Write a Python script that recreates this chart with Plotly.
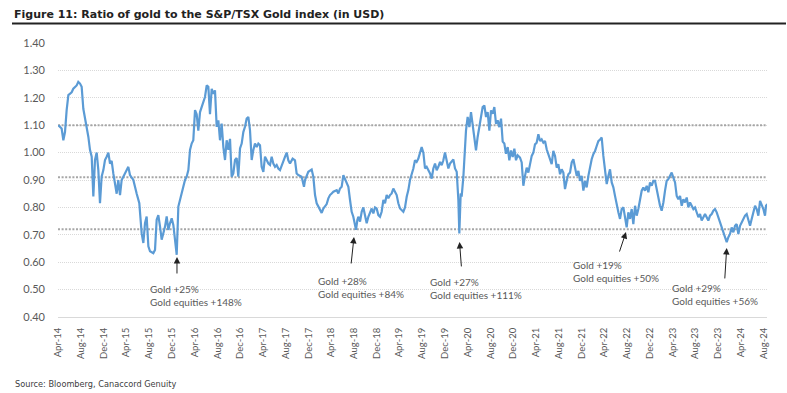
import pandas as pd
import plotly.graph_objects as go

# ---- data (months since 1 Apr 2014, ratio) ----
months = [
    0.06, 0.64, 0.94, 1.23, 1.52, 1.82, 2.40, 2.69, 3.28, 3.57, 3.87, 4.16, 4.45, 5.04, 5.33, 5.62, 5.92, 6.21,
    6.50, 6.80, 7.09, 7.38, 7.67, 7.97, 8.26, 8.55, 8.85, 9.14, 9.43, 9.72, 10.31, 10.60, 10.90, 11.19, 11.48,
    12.07, 12.36, 12.65, 13.24, 13.83, 14.29, 14.70, 15.00, 15.29, 15.58, 15.88, 16.17, 16.75, 17.05, 17.34,
    17.63, 17.93, 18.22, 18.51, 18.81, 19.10, 19.39, 19.68, 19.98, 20.27, 20.56, 20.86, 21.15, 21.44, 21.73,
    22.03, 22.32, 22.61, 22.91, 23.20, 23.49, 23.78, 24.08, 24.37, 24.66, 24.96, 25.25, 25.54, 25.83, 26.13,
    26.42, 26.71, 27.01, 27.30, 27.59, 27.89, 28.18, 28.47, 28.76, 29.06, 29.35, 29.64, 29.94, 30.23, 30.52,
    30.81, 31.11, 31.40, 31.69, 31.99, 32.28, 32.57, 32.86, 33.16, 33.45, 33.74, 34.04, 34.33, 34.62, 34.92,
    35.21, 35.50, 35.79, 36.09, 36.38, 36.67, 36.97, 37.26, 37.55, 37.84, 38.14, 38.43, 38.72,
    39.02, 39.31, 39.89, 40.19, 40.48, 40.77, 41.24, 41.65, 41.94, 42.24, 42.82, 43.23, 43.41, 43.99, 44.58,
    44.87, 45.17, 45.46, 46.05, 46.34, 46.63, 47.22, 47.51, 47.80, 48.10, 48.39, 48.98, 49.27, 49.56, 49.85,
    50.15, 50.44, 51.03, 51.32, 51.61, 51.90, 52.20, 52.37, 52.61, 52.78, 53.08, 53.37, 53.66, 53.96, 54.25,
    54.54, 54.83, 55.13, 55.42, 55.71, 56.00, 56.30, 56.59, 56.88, 57.18, 57.47, 57.76, 58.06, 58.35, 58.64,
    58.93, 59.23, 59.52, 59.81, 60.11, 60.69, 60.98, 61.28, 61.57, 61.86, 62.16, 62.45, 62.74, 63.03, 63.33,
    63.62, 63.91, 64.21, 64.50, 64.79, 65.08, 65.38, 65.67, 65.96, 66.26, 66.55, 66.84, 67.14, 67.43, 67.72,
    68.01, 68.31, 68.60, 68.89, 69.19, 69.48, 69.77, 70.07, 70.36, 70.53, 70.77, 70.94, 71.24, 71.41, 71.70,
    71.99, 72.29, 72.58, 72.88, 73.17, 73.46, 73.75, 74.05, 74.34, 74.63, 74.93, 75.22, 75.51, 75.81, 76.10,
    76.39, 76.68, 76.98, 77.27, 77.56, 77.86, 78.15, 78.44, 78.73, 79.03, 79.32, 79.61, 79.91, 80.20, 80.49,
    80.78,
    81.19, 81.49, 81.78, 82.07, 82.37, 82.66, 82.95, 83.25, 83.54, 83.83, 84.12, 84.42, 84.71, 85.00, 85.30,
    85.59, 85.88, 86.18, 86.47, 86.76, 87.05, 87.35, 87.64, 87.93, 88.23, 88.52, 88.81, 89.10, 89.40, 89.69,
    89.98, 90.28, 90.57, 90.86, 91.16, 91.45, 91.74, 92.03, 92.33, 92.62, 92.91, 93.21, 93.50, 93.79, 94.08,
    94.38, 94.67, 94.96, 95.26, 95.55, 95.84, 96.13, 96.43, 96.72, 97.01, 97.31, 97.60, 97.89, 98.18, 98.48,
    98.77, 99.06, 99.36, 99.65, 99.94, 100.23, 100.53, 100.82, 101.11, 101.41, 101.70, 101.99, 102.28, 102.58,
    102.87, 103.16, 103.46, 103.75, 104.04, 104.34, 104.63, 104.92, 105.21, 105.51, 105.80, 106.09, 106.39,
    106.68, 106.97, 107.26, 107.56, 107.85, 108.14, 108.44, 108.73, 109.02, 109.32, 109.61, 109.90, 110.19,
    110.49, 110.78, 111.07, 111.37, 111.66, 111.95, 112.24, 112.54, 112.83, 113.12, 113.42, 113.71, 114.00,
    114.29, 114.59, 114.88, 115.17, 115.47, 115.76, 116.05, 116.34, 116.64, 116.93, 117.22, 117.52, 117.81,
    118.10, 118.39, 118.69, 118.98, 119.27, 119.57, 119.86, 120.15, 120.45, 120.74, 121.03, 121.32, 121.62,
    121.91, 122.20, 122.50, 122.79, 123.08, 123.38, 123.67, 123.96, 124.25, 124.43, 124.66,
]
ratio = [
    1.100, 1.088, 1.045, 1.075, 1.155, 1.210, 1.220, 1.233, 1.245, 1.258, 1.252, 1.240, 1.160, 1.094, 1.058, 1.010, 0.985, 0.840,
    0.973, 1.000, 0.936, 0.815, 0.912, 0.936, 0.973, 0.985, 1.000, 0.960, 0.970, 0.924, 0.850, 0.900, 0.845, 0.900, 0.912,
    0.936, 0.948, 0.918, 0.900, 0.850, 0.815, 0.706, 0.670, 0.742, 0.767, 0.658, 0.640, 0.633, 0.645, 0.755,
    0.772, 0.730, 0.682, 0.706, 0.730, 0.767, 0.718, 0.742, 0.760, 0.736, 0.682, 0.627, 0.803, 0.827, 0.858,
    0.876, 0.900, 0.912, 0.936, 1.010, 1.033, 1.045, 1.155, 1.140, 1.080, 1.148, 1.167, 1.180, 1.203, 1.245,
    1.240, 1.140, 1.233, 1.215, 1.227, 1.094, 1.118, 1.045, 1.106, 1.020, 0.973, 1.045, 1.010, 1.050, 0.912,
    0.924, 0.973, 0.980, 0.912, 1.015, 1.033, 1.075, 1.094, 1.124, 1.130, 1.082, 0.973, 1.010, 1.033, 1.020,
    1.033, 1.027, 0.948, 0.930, 0.985, 0.973, 0.960, 0.955, 0.985, 0.960, 0.948, 0.955, 0.942,
    0.936, 0.954, 0.984, 1.000, 0.972, 0.960, 0.978, 0.972, 0.924, 0.918, 0.912, 0.875, 0.900, 0.930, 0.938,
    0.912, 0.845, 0.815, 0.790, 0.780, 0.796, 0.812, 0.833, 0.845, 0.851, 0.857, 0.863, 0.851, 0.869, 0.875,
    0.918, 0.905, 0.875, 0.827, 0.784, 0.766, 0.730, 0.718, 0.754, 0.766, 0.748, 0.784, 0.800, 0.772, 0.742,
    0.766, 0.778, 0.796, 0.778, 0.800, 0.796, 0.772, 0.766, 0.784, 0.827, 0.815, 0.845, 0.833, 0.845, 0.851,
    0.869, 0.857, 0.845, 0.815, 0.796, 0.784, 0.800, 0.839, 0.863, 0.900, 0.918, 0.942, 0.972, 0.966, 0.978,
    1.000, 1.020, 1.000, 0.942, 0.948, 0.936, 0.924, 0.905, 0.942, 0.960, 0.936, 0.948, 0.966, 0.954, 0.972,
    1.000, 0.972, 0.942, 0.960, 0.966, 0.975, 0.942, 0.930, 0.827, 0.705, 0.851, 0.839, 0.912, 0.972, 1.080,
    1.130, 1.093, 1.148, 1.093, 1.050, 1.008, 1.057, 1.100, 1.136, 1.166, 1.172, 1.130, 1.148, 1.080, 1.154,
    1.142, 1.166, 1.105, 1.118, 1.093, 1.124, 1.040, 1.033, 0.996, 1.020, 0.972, 1.008, 0.984, 1.014, 0.972,
    0.990,
    0.982, 0.964, 0.879, 0.915, 0.945, 0.927, 0.964, 0.988, 1.000, 1.030, 1.036, 1.067, 1.042, 1.048, 1.036,
    1.042, 1.012, 0.994, 0.970, 0.958, 1.006, 0.988, 0.945, 0.958, 0.921, 0.939, 0.927, 0.867, 0.897, 0.921,
    0.927, 0.964, 0.976, 0.939, 0.915, 0.933, 0.897, 0.915, 0.861, 0.897, 0.873, 0.915, 0.952, 0.976, 0.994,
    1.006, 1.024, 1.042, 1.048, 1.055, 0.988, 0.939, 0.885, 0.915, 0.939, 0.891, 0.873, 0.842, 0.806, 0.782,
    0.758, 0.794, 0.800, 0.758, 0.727, 0.782, 0.758, 0.794, 0.739, 0.806, 0.770, 0.794, 0.824, 0.861,
    0.873, 0.861, 0.879, 0.855, 0.891, 0.879, 0.897, 0.897, 0.867, 0.830, 0.806, 0.788, 0.818,
    0.861, 0.897, 0.903, 0.915, 0.927, 0.909, 0.891, 0.842, 0.830, 0.842, 0.806, 0.830, 0.818,
    0.836, 0.800, 0.818, 0.806, 0.794, 0.800, 0.782, 0.764, 0.776, 0.752, 0.764, 0.776, 0.764,
    0.752, 0.770, 0.776, 0.788, 0.794, 0.782, 0.764, 0.745, 0.733, 0.709, 0.691, 0.673, 0.691,
    0.703, 0.727, 0.709, 0.733, 0.739, 0.703, 0.733, 0.745, 0.758, 0.770, 0.776, 0.758, 0.733,
    0.758, 0.782, 0.806, 0.794, 0.770, 0.824, 0.812, 0.794, 0.770, 0.806, 0.812,
]
# horizontal reference levels (average and +/- one std dev)
ref_levels = [1.10, 0.91, 0.72]

# annotations: (text, text-left month, text-top value, arrow-tip month, arrow-tip value, ax, ay)
notes = [
    ("Gold +25%<br>Gold equities +148%", 15.99, 0.528, 20.91, 0.619, 0, 18),
    ("Gold +28%<br>Gold equities +84%", 45.52, 0.557, 52.02, 0.692, -3, 28),
    ("Gold +27%<br>Gold equities +111%", 65.20, 0.553, 70.56, 0.674, 2, 26),
    ("Gold +19%<br>Gold equities +50%", 90.33, 0.615, 99.82, 0.710, -7, 21),
    ("Gold +29%<br>Gold equities +56%", 107.73, 0.531, 117.52, 0.652, -2, 32),
]

START = pd.Timestamp("2014-04-01")


def m2d(m):
    return START + pd.Timedelta(days=m * 30.4375)


dates = [m2d(m) for m in months]
x_end = m2d(124.6)

fig = go.Figure()
for lvl in ref_levels:
    fig.add_trace(go.Scatter(
        x=[START, x_end], y=[lvl, lvl], mode="lines",
        line=dict(color="#a6a6a6", width=2, dash="2px,1.6px"),
        hoverinfo="skip", showlegend=False))

fig.add_trace(go.Scatter(
    x=dates, y=ratio, mode="lines",
    line=dict(color="#5b9bd5", width=2.2), showlegend=False))

tick_font = "Lato, 'Open Sans', sans-serif"
annos = []
for txt, tm, tv, am, av, ax, ay in notes:
    annos.append(dict(
        x=m2d(tm), y=tv, xref="x", yref="y", text=txt, showarrow=False,
        xanchor="left", yanchor="top", align="left", borderpad=0,
        font=dict(family=tick_font, size=10, color="#595959")))
    annos.append(dict(
        x=m2d(am), y=av, xref="x", yref="y", text="", showarrow=True,
        ax=ax, ay=ay, arrowhead=2, arrowsize=1.3, arrowwidth=1, arrowcolor="#222222",
        standoff=0))

W, H = 787, 393
ML, MR, MT, MB = 58, 20, 43, 76
pw, ph = W - ML - MR, H - MT - MB


def px(xp):
    return (xp - ML) / pw


def py(yp):
    return 1 - (yp - MT) / ph


annos.append(dict(
    x=px(12), y=py(15), xref="paper", yref="paper", xanchor="left", yanchor="middle",
    text="<b>Figure 11: Ratio of gold to the S&P/TSX Gold index (in USD)</b>", showarrow=False,
    font=dict(family="DejaVu Sans", size=11, color="#222222")))
annos.append(dict(
    x=px(13), y=py(384), xref="paper", yref="paper", xanchor="left", yanchor="middle",
    text="Source: Bloomberg, Canaccord Genuity", showarrow=False,
    font=dict(family="DejaVu Sans", size=8.2, color="#404040")))

fig.update_layout(
    width=W, height=H,
    margin=dict(l=ML, r=MR, t=MT, b=MB),
    paper_bgcolor="white", plot_bgcolor="white",
    annotations=annos,
    shapes=[dict(type="line", xref="paper", yref="paper",
                 x0=px(12), x1=px(786), y0=py(23.5), y1=py(23.5),
                 line=dict(color="#222222", width=2))],
    xaxis=dict(
        type="date", range=[START, x_end],
        tick0="2014-04-01", dtick="M4", tickformat="%b-%y", tickangle=-90,
        showgrid=False, showline=True, linecolor="#d9d9d9", linewidth=1,
        ticks="", ticklabelstandoff=6,
        tickfont=dict(family=tick_font, size=9.5, color="#595959"),
        zeroline=False),
    yaxis=dict(
        range=[0.40, 1.40], dtick=0.1, tick0=0.4, tickformat=".2f",
        showgrid=True, gridcolor="#d9d9d9", gridwidth=1, griddash="1px,1px",
        ticks="", ticklabelstandoff=12, zeroline=False, showline=False,
        tickfont=dict(family=tick_font, size=11, color="#595959")),
)

fig.write_html(
    "out.html",
    config={"displayModeBar": False},
    post_script="document.body.style.margin='0';document.body.style.overflow='hidden';",
)
